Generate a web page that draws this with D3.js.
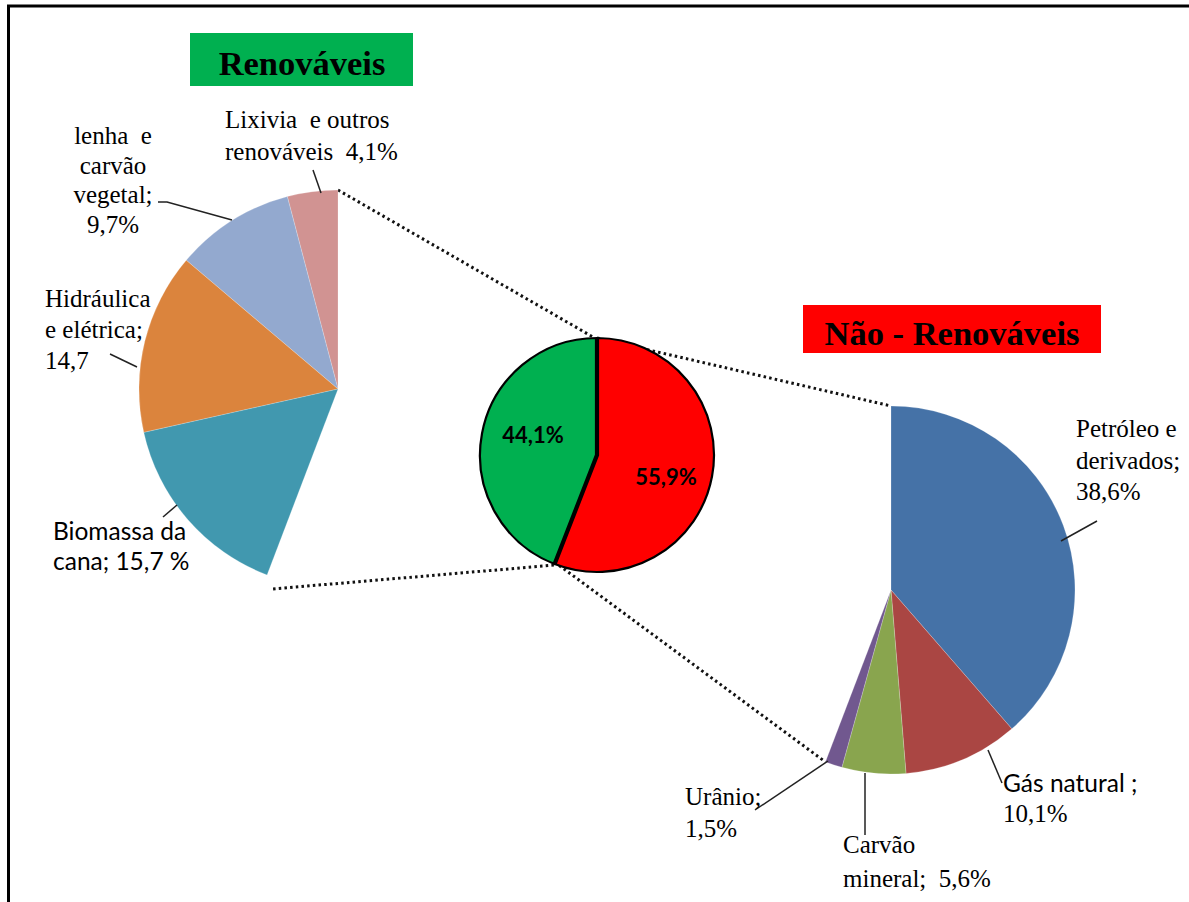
<!DOCTYPE html>
<html>
<head>
<meta charset="utf-8">
<script src="https://cdn.jsdelivr.net/npm/d3@7/dist/d3.min.js"></script>
<style>
  html, body { margin: 0; padding: 0; background: #fff; }
  svg { display: block; }
</style>
</head>
<body>
<svg id="chart" width="1189" height="902"></svg>
<script>
// Matriz energética: renováveis x não renováveis (%)
const groupNames = ["Renováveis", "Não - Renováveis"];
const groupShares = [44.1, 55.9];
const groupColors = ["#00B050", "#FF0000"];

const renewableNames = ["Lixivia e outros renováveis", "lenha e carvão vegetal", "Hidráulica e elétrica", "Biomassa da cana"];
const renewableValues = [4.1, 9.7, 14.7, 15.7];
const renewableColors = ["#D19392", "#93A9CF", "#DB843D", "#4198AF"];

const nonRenewableNames = ["Petróleo e derivados", "Gás natural", "Carvão mineral", "Urânio"];
const nonRenewableValues = [38.6, 10.1, 5.6, 1.5];
const nonRenewableColors = ["#4572A7", "#AA4643", "#89A54E", "#71588F"];

// Label text per slice; {v} is replaced by the slice value
const renewableLabelLines = [
  ["Lixivia\u00a0 e outros", "renováveis\u00a0 {v}%"],
  ["lenha\u00a0 e", "carvão", "vegetal;", "{v}%"],
  ["Hidráulica", "e elétrica;", "{v}"],
  ["Biomassa da", "cana; {v} %"]
];
const nonRenewableLabelLines = [
  ["Petróleo e", "derivados;", "{v}%"],
  ["Gás natural ;", "{v}%"],
  ["Carvão", "mineral;\u00a0 {v}%"],
  ["Urânio;", "{v}%"]
];

const SERIF = "'Liberation Serif', 'Times New Roman', serif";
const SANS = "Lato, 'Open Sans', sans-serif";

const fmt = v => d3.format(".1f")(v).replace(".", ",");

const svg = d3.select("#chart");

// ---- frame (top and left rules) ----
svg.append("line").attr("x1", 7).attr("y1", 6).attr("x2", 1189).attr("y2", 6)
  .attr("stroke", "#000").attr("stroke-width", 3);
svg.append("line").attr("x1", 8.5).attr("y1", 5).attr("x2", 8.5).attr("y2", 902)
  .attr("stroke", "#000").attr("stroke-width", 3);

// ---- geometry ----
const angle = d3.scaleLinear().domain([0, 100]).range([0, 2 * Math.PI]);
const leftPie = { cx: 338, cy: 389, r: 199 };
const rightPie = { cx: 891, cy: 590, r: 184 };
const midPie = { cx: 597, cy: 455, r: 117 };

function pointAt(p, a, r) {
  return [p.cx + (r ?? p.r) * Math.sin(a), p.cy - (r ?? p.r) * Math.cos(a)];
}

// cumulative slices; dir = -1 draws counter-clockwise from 12 o'clock
function slices(values, dir) {
  let cum = 0;
  return values.map((v, i) => {
    const s = { index: i, value: v, startAngle: dir * angle(cum), endAngle: dir * angle(cum + v) };
    cum += v;
    return s;
  });
}

const leftSlices = slices(renewableValues, -1);
const rightSlices = slices(nonRenewableValues, 1);
const midSlices = [
  { value: groupShares[0], startAngle: 0, endAngle: -angle(groupShares[0]), color: groupColors[0] },
  { value: groupShares[1], startAngle: 0, endAngle: angle(groupShares[1]), color: groupColors[1] }
];

// ---- dotted connectors (behind the pies) ----
const leftTop = pointAt(leftPie, 0);
const leftEnd = pointAt(leftPie, leftSlices[leftSlices.length - 1].endAngle);
const rightTop = pointAt(rightPie, 0);
const rightEnd = pointAt(rightPie, rightSlices[rightSlices.length - 1].endAngle);
const midTop = pointAt(midPie, 0);
const midSplit = pointAt(midPie, midSlices[0].endAngle);

const connectors = [
  [leftTop, [midTop[0] - 4, midTop[1] - 1]],
  [midTop, rightTop],
  [[leftEnd[0] + 6, leftEnd[1] + 14], [midSplit[0], midSplit[1] + 1]],
  [[midSplit[0], midSplit[1] - 2], rightEnd]
];
svg.append("g").selectAll("line").data(connectors).join("line")
  .attr("x1", d => d[0][0]).attr("y1", d => d[0][1])
  .attr("x2", d => d[1][0]).attr("y2", d => d[1][1])
  .attr("stroke", "#111").attr("stroke-width", 3)
  .attr("stroke-dasharray", "2.5,3.2");

// ---- side pies ----
function drawPie(p, data, colors) {
  const arc = d3.arc().innerRadius(0).outerRadius(p.r);
  svg.append("g").attr("transform", `translate(${p.cx},${p.cy})`)
    .selectAll("path").data(data).join("path")
    .attr("d", arc)
    .attr("fill", d => colors[d.index])
    .attr("stroke", "rgba(255,255,255,0.35)").attr("stroke-width", 0.6);
}
drawPie(leftPie, leftSlices, renewableColors);
drawPie(rightPie, rightSlices, nonRenewableColors);

// ---- central pie ----
const midArc = d3.arc().innerRadius(0).outerRadius(midPie.r);
const midG = svg.append("g").attr("transform", `translate(${midPie.cx},${midPie.cy})`);
midG.selectAll("path").data(midSlices).join("path")
  .attr("d", midArc)
  .attr("fill", d => d.color)
  .attr("stroke", "#000").attr("stroke-width", 2.2)
  .attr("stroke-linejoin", "round");
// heavier radial separators
const sepPts = [pointAt({ cx: 0, cy: 0, r: midPie.r }, 0), [0, 0], pointAt({ cx: 0, cy: 0, r: midPie.r }, midSlices[0].endAngle)];
midG.append("path").attr("d", d3.line()(sepPts))
  .attr("fill", "none").attr("stroke", "#000").attr("stroke-width", 4.2)
  .attr("stroke-linejoin", "miter");

const midLabelPos = [[533, 443], [666, 485]];
midG.selectAll("text").data(midSlices).join("text")
  .attr("font-family", SANS)
  .attr("x", (d, i) => midLabelPos[i][0] - midPie.cx)
  .attr("y", (d, i) => midLabelPos[i][1] - midPie.cy)
  .attr("text-anchor", "middle")
  .attr("font-size", 22).attr("font-weight", 700).attr("fill", "#000")
  .text(d => fmt(d.value) + "%");

// ---- title boxes ----
const titleBoxes = [
  { x: 190, y: 33, w: 223, h: 53, tx: 302, ty: 75 },
  { x: 803, y: 305, w: 298, h: 48, tx: 952, ty: 345 }
];
titleBoxes.forEach((b, i) => {
  svg.append("rect").attr("x", b.x).attr("y", b.y).attr("width", b.w).attr("height", b.h)
    .attr("fill", groupColors[i]);
  svg.append("text").attr("font-family", SERIF)
    .attr("x", b.tx).attr("y", b.ty).attr("text-anchor", "middle")
    .attr("font-size", 34.5).attr("font-weight", 700).attr("fill", "#000")
    .text(groupNames[i]);
});

// ---- slice labels with leader lines ----
// fonts per line: "s" serif, "a" sans
const renewableLabelLayout = [
  { x: 225, y: 128, dy: 32, anchor: "start", fonts: "ss", leader: [[313, 170], [321, 193]] },
  { x: 113, y: 144, dy: 29.7, anchor: "middle", fonts: "ssss", leader: [[158, 202], [167, 202], [232, 220]] },
  { x: 45, y: 307, dy: 31, anchor: "start", fonts: "sss", leader: [[110, 354], [137, 367]] },
  { x: 53, y: 540, dy: 30, anchor: "start", fonts: "aa", leader: [[163, 517], [177, 505]] }
];
const nonRenewableLabelLayout = [
  { x: 1076, y: 437, dy: 31.5, anchor: "start", fonts: "sss", leader: [[1061, 541], [1097, 521]] },
  { x: 1003, y: 792, dy: 30, anchor: "start", fonts: "as", leader: [[988, 750], [1002, 783]] },
  { x: 843, y: 853, dy: 34, anchor: "start", fonts: "ss", leader: [[865, 773], [865, 835]] },
  { x: 685, y: 805, dy: 32, anchor: "start", fonts: "ss", leader: [[828, 761], [755, 810]] }
];

function drawLabels(values, lines, layout) {
  const g = svg.append("g");
  values.forEach((v, i) => {
    const L = layout[i];
    g.append("path").attr("d", d3.line()(L.leader))
      .attr("fill", "none").attr("stroke", "#222").attr("stroke-width", 1.5);
    lines[i].forEach((t, j) => {
      const sans = L.fonts[j] === "a";
      g.append("text")
        .attr("font-family", sans ? SANS : SERIF)
        .attr("x", L.x).attr("y", L.y + j * L.dy)
        .attr("text-anchor", L.anchor)
        .attr("font-size", sans ? 24.5 : 25)
        .attr("fill", "#000")
        .text(t.replace("{v}", fmt(v)));
    });
  });
}
drawLabels(renewableValues, renewableLabelLines, renewableLabelLayout);
drawLabels(nonRenewableValues, nonRenewableLabelLines, nonRenewableLabelLayout);
</script>
</body>
</html>
